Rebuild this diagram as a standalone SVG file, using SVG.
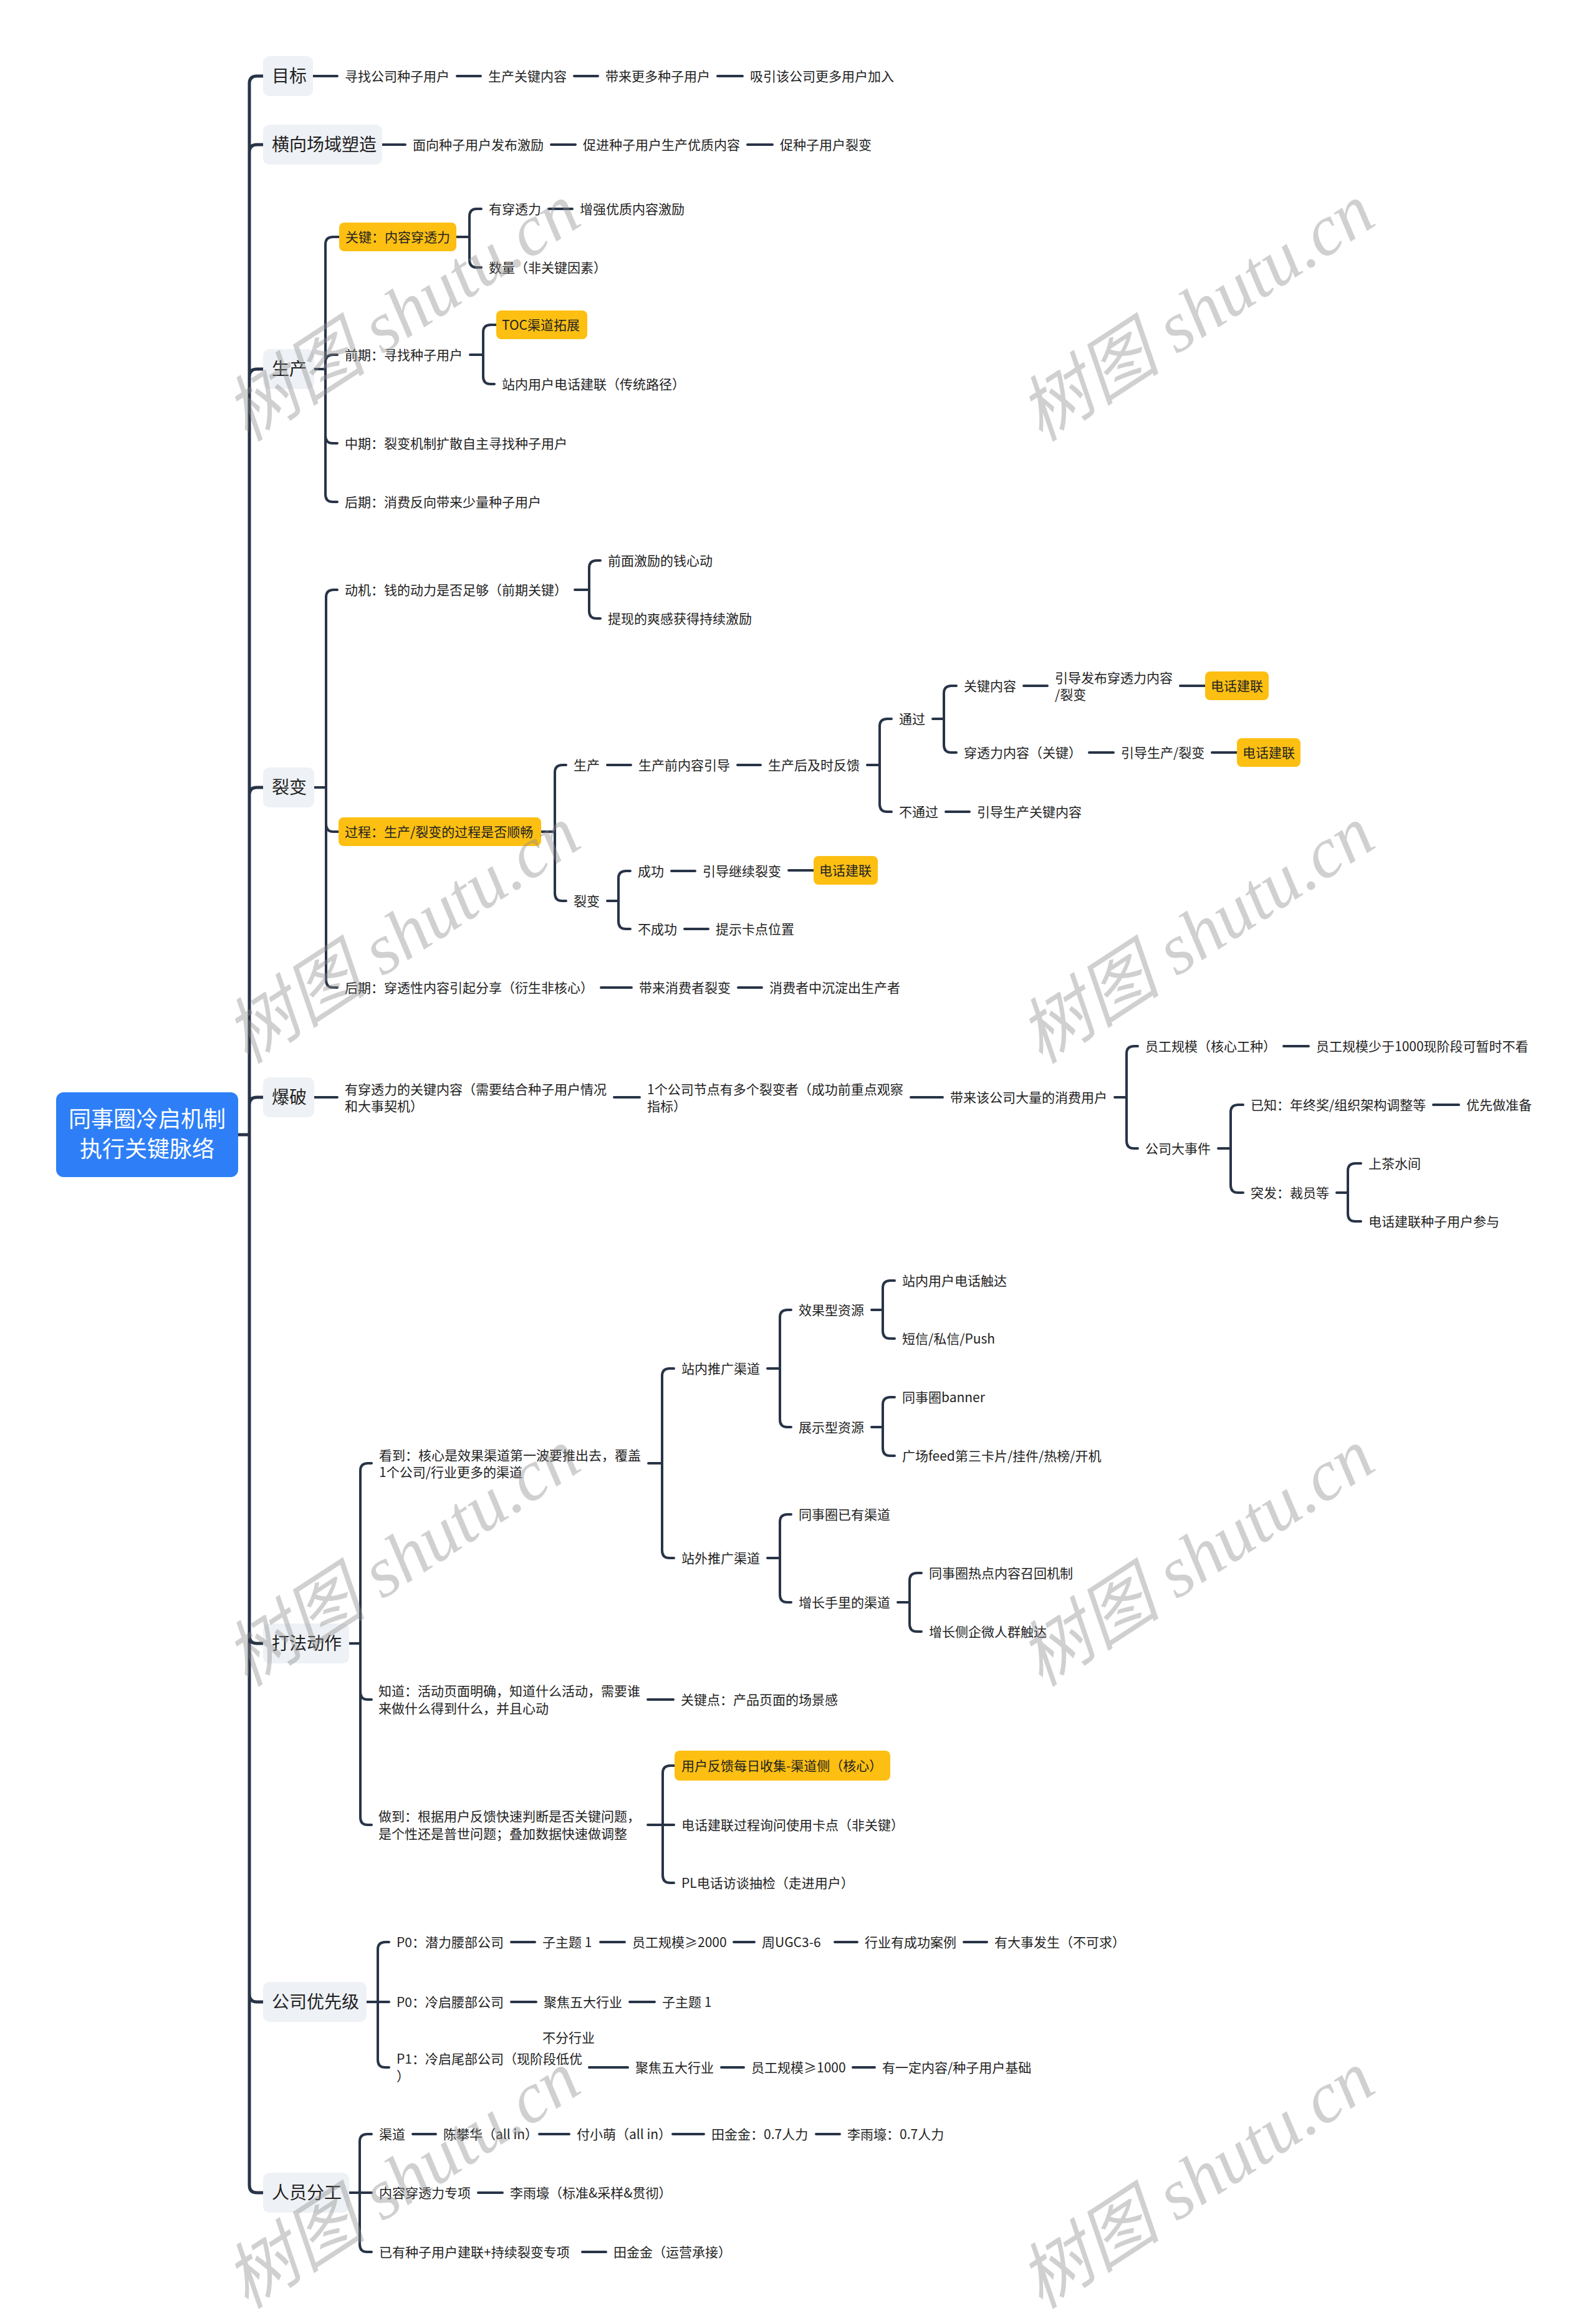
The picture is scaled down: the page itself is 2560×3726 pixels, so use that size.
<svg xmlns="http://www.w3.org/2000/svg" width="2560" height="3726" viewBox="0 0 2560 3726">
<style>
text{font-family:"Noto Sans CJK SC","Noto Sans",sans-serif;font-size:21px;fill:#222}
.t1{font-size:28px}
.rt{font-size:36px;fill:#fff}
.c path{fill:none;stroke:#283447;stroke-width:4;stroke-linecap:round}
.c .tr{stroke-width:5}
.b1{fill:#eef1f5}
.y{fill:#fcbf12}
.wm text{font-family:"Liberation Serif","Noto Sans CJK SC",serif;font-style:italic;font-size:115px;fill:#8c8c8c;opacity:0.4}
</style>
<rect width="2560" height="3726" fill="#fff"/>
<g class="c" id="connectors">
<path class="tr" d="M382 1820H400M400 1820V134Q400 122 412 122H422M400 1820V244Q400 232 412 232H422M400 1820V604Q400 592 412 592H422M400 1820V1275Q400 1263 412 1263H422M400 1820V1772Q400 1760 412 1760H422M400 1820V2624Q400 2636 412 2636H422M400 1820V3199Q400 3211 412 3211H422M400 1820V3505Q400 3517 412 3517H422"/>
<path d="M502 122H541M733 122H771M921 122H959M1151 122H1191"/>
<path d="M613 232H650M884 232H923M1199 232H1239"/>
<path d="M504 592H522M522 592V392Q522 380 534 380H544M522 592V581Q522 569 534 569H541M522 592V699Q522 711 534 711H541M522 592V793Q522 805 534 805H541"/>
<path d="M732 380H753M753 380V347Q753 335 765 335H772M753 380V417Q753 429 765 429H772M880 335H918"/>
<path d="M754 569H775M775 569V533Q775 521 787 521H796M775 569V604Q775 616 787 616H793"/>
<path d="M504 1263H523M523 1263V958Q523 946 535 946H541M523 1263V1322Q523 1334 535 1334H543M523 1263V1572Q523 1584 535 1584H541"/>
<path d="M922 946H945M945 946V911Q945 899 957 899H963M945 946V980Q945 992 957 992H963"/>
<path d="M868 1334H890M890 1334V1239Q890 1227 902 1227H908M890 1334V1433Q890 1445 902 1445H908"/>
<path d="M974 1227H1012M1183 1227H1220M1391 1227H1411M1411 1227V1165Q1411 1153 1423 1153H1430M1411 1227V1290Q1411 1302 1423 1302H1430"/>
<path d="M1496 1153H1514M1514 1153V1112Q1514 1100 1526 1100H1534M1514 1153V1195Q1514 1207 1526 1207H1534"/>
<path d="M1642 1100H1680M1893 1100H1933M1747 1207H1786M1944 1207H1984M1517 1302H1555"/>
<path d="M974 1445H992M992 1445V1409Q992 1397 1004 1397H1011M992 1445V1478Q992 1490 1004 1490H1011M1077 1397H1115M1265 1396H1305M1098 1490H1136"/>
<path d="M964 1584H1013M1184 1584H1222"/>
<path d="M504 1760H541M985 1760H1026M1461 1760H1512M1788 1760H1807M1807 1760V1690Q1807 1678 1819 1678H1825M1807 1760V1830Q1807 1842 1819 1842H1825M2059 1678H2099"/>
<path d="M1954 1842H1974M1974 1842V1784Q1974 1772 1986 1772H1994M1974 1842V1901Q1974 1913 1986 1913H1994M2299 1772H2340"/>
<path d="M2144 1913H2162M2162 1913V1878Q2162 1866 2174 1866H2183M2162 1913V1947Q2162 1959 2174 1959H2183"/>
<path d="M560 2636H578M578 2636V2359Q578 2347 590 2347H596M578 2636V2714Q578 2726 590 2726H596M578 2636V2915Q578 2927 590 2927H596"/>
<path d="M1040 2347H1062M1062 2347V2207Q1062 2195 1074 2195H1081M1062 2347V2487Q1062 2499 1074 2499H1081"/>
<path d="M1231 2195H1251M1251 2195V2113Q1251 2101 1263 2101H1269M1251 2195V2277Q1251 2289 1263 2289H1269"/>
<path d="M1398 2101H1416M1416 2101V2066Q1416 2054 1428 2054H1435M1416 2101V2135Q1416 2147 1428 2147H1435"/>
<path d="M1398 2289H1416M1416 2289V2253Q1416 2241 1428 2241H1435M1416 2289V2323Q1416 2335 1428 2335H1435"/>
<path d="M1231 2499H1251M1251 2499V2441Q1251 2429 1263 2429H1269M1251 2499V2558Q1251 2570 1263 2570H1269"/>
<path d="M1440 2570H1459M1459 2570V2535Q1459 2523 1471 2523H1478M1459 2570V2605Q1459 2617 1471 2617H1478"/>
<path d="M1039 2726H1080M1039 2927H1063M1063 2927V2844Q1063 2832 1075 2832H1082M1063 2927H1081M1063 2927V3008Q1063 3020 1075 3020H1081"/>
<path d="M588 3211H606M606 3211V3127Q606 3115 618 3115H624M606 3211H624M606 3211V3304Q606 3316 618 3316H624"/>
<path d="M820 3115H858M963 3115H1002M1177 3115H1210M1339 3115H1375M1546 3115H1583M820 3211H860M1010 3211H1050M945 3316H1007M1157 3316H1193M1368 3316H1403"/>
<path d="M560 3517H577M577 3517V3435Q577 3423 589 3423H596M577 3517H596M577 3517V3600Q577 3612 589 3612H596"/>
<path d="M662 3423H699M865 3423H913M1079 3423H1129M1309 3423H1347M767 3517H806M934 3612H972"/>
</g>
<g id="root"><rect x="90" y="1752" width="292" height="136" rx="12" fill="#2e7ff7"/><text class="rt" x="236" y="1808" text-anchor="middle">同事圈冷启机制</text><text class="rt" x="236" y="1856" text-anchor="middle">执行关键脉络</text></g>
<g id="n-mubiao"><rect class="b1" x="422" y="90" width="80" height="64" rx="10"/><text class="t1" x="436" y="132">目标</text></g>
<g id="n-mb1"><text x="553" y="130">寻找公司种子用户</text></g>
<g id="n-mb2"><text x="783" y="130">生产关键内容</text></g>
<g id="n-mb3"><text x="971" y="130">带来更多种子用户</text></g>
<g id="n-mb4"><text x="1203" y="130">吸引该公司更多用户加入</text></g>
<g id="n-hx"><rect class="b1" x="422" y="200" width="191" height="64" rx="10"/><text class="t1" x="436" y="242">横向场域塑造</text></g>
<g id="n-hx1"><text x="662" y="240">面向种子用户发布激励</text></g>
<g id="n-hx2"><text x="935" y="240">促进种子用户生产优质内容</text></g>
<g id="n-hx3"><text x="1251" y="240">促种子用户裂变</text></g>
<g id="n-sc"><rect class="b1" x="422" y="560" width="82" height="64" rx="10"/><text class="t1" x="436" y="602">生产</text></g>
<g id="n-sc1"><rect class="y" x="544" y="357" width="188" height="46" rx="8"/><text x="554" y="388">关键：内容穿透力</text></g>
<g id="n-sc11"><text x="784" y="343">有穿透力</text></g>
<g id="n-sc111"><text x="930" y="343">增强优质内容激励</text></g>
<g id="n-sc12"><text x="784" y="437">数量（非关键因素）</text></g>
<g id="n-sc2"><text x="553" y="577">前期：寻找种子用户</text></g>
<g id="n-sc21"><rect class="y" x="796" y="498" width="146" height="46" rx="8"/><text x="805" y="529">TOC渠道拓展</text></g>
<g id="n-sc22"><text x="805" y="624">站内用户电话建联（传统路径）</text></g>
<g id="n-sc3"><text x="553" y="719">中期：裂变机制扩散自主寻找种子用户</text></g>
<g id="n-sc4"><text x="553" y="813">后期：消费反向带来少量种子用户</text></g>
<g id="n-lb"><rect class="b1" x="422" y="1231" width="82" height="64" rx="10"/><text class="t1" x="436" y="1273">裂变</text></g>
<g id="n-lb1"><text x="553" y="954">动机：钱的动力是否足够（前期关键）</text></g>
<g id="n-lb11"><text x="975" y="907">前面激励的钱心动</text></g>
<g id="n-lb12"><text x="975" y="1000">提现的爽感获得持续激励</text></g>
<g id="n-lb2"><rect class="y" x="543" y="1311" width="325" height="46" rx="8"/><text x="553" y="1342">过程：生产/裂变的过程是否顺畅</text></g>
<g id="n-lb21"><text x="920" y="1235">生产</text></g>
<g id="n-lb211"><text x="1024" y="1235">生产前内容引导</text></g>
<g id="n-lb212"><text x="1232" y="1235">生产后及时反馈</text></g>
<g id="n-lb2121"><text x="1442" y="1161">通过</text></g>
<g id="n-tg1"><text x="1546" y="1108">关键内容</text></g>
<g id="n-tg11"><text x="1692" y="1095">引导发布穿透力内容</text><text x="1692" y="1122">/裂变</text></g>
<g id="n-tg111"><rect class="y" x="1933" y="1077" width="102" height="46" rx="8"/><text x="1942" y="1108">电话建联</text></g>
<g id="n-tg2"><text x="1546" y="1215">穿透力内容（关键）</text></g>
<g id="n-tg21"><text x="1798" y="1215">引导生产/裂变</text></g>
<g id="n-tg211"><rect class="y" x="1984" y="1184" width="102" height="46" rx="8"/><text x="1993" y="1215">电话建联</text></g>
<g id="n-btg"><text x="1442" y="1310">不通过</text></g>
<g id="n-btg1"><text x="1567" y="1310">引导生产关键内容</text></g>
<g id="n-lb22"><text x="920" y="1453">裂变</text></g>
<g id="n-cg"><text x="1023" y="1405">成功</text></g>
<g id="n-cg1"><text x="1127" y="1405">引导继续裂变</text></g>
<g id="n-cg11"><rect class="y" x="1305" y="1373" width="103" height="46" rx="8"/><text x="1314" y="1404">电话建联</text></g>
<g id="n-bcg"><text x="1023" y="1498">不成功</text></g>
<g id="n-bcg1"><text x="1148" y="1498">提示卡点位置</text></g>
<g id="n-lb3"><text x="553" y="1592">后期：穿透性内容引起分享（衍生非核心）</text></g>
<g id="n-lb31"><text x="1025" y="1592">带来消费者裂变</text></g>
<g id="n-lb32"><text x="1234" y="1592">消费者中沉淀出生产者</text></g>
<g id="n-bp"><rect class="b1" x="422" y="1728" width="82" height="64" rx="10"/><text class="t1" x="436" y="1770">爆破</text></g>
<g id="n-bp1"><text x="553" y="1755">有穿透力的关键内容（需要结合种子用户情况</text><text x="553" y="1782">和大事契机）</text></g>
<g id="n-bp2"><text x="1038" y="1755">1个公司节点有多个裂变者（成功前重点观察</text><text x="1038" y="1782">指标）</text></g>
<g id="n-bp3"><text x="1524" y="1768">带来该公司大量的消费用户</text></g>
<g id="n-bp31"><text x="1837" y="1686">员工规模（核心工种）</text></g>
<g id="n-bp311"><text x="2111" y="1686">员工规模少于1000现阶段可暂时不看</text></g>
<g id="n-bp32"><text x="1837" y="1850">公司大事件</text></g>
<g id="n-bp321"><text x="2006" y="1780">已知：年终奖/组织架构调整等</text></g>
<g id="n-bp3211"><text x="2352" y="1780">优先做准备</text></g>
<g id="n-bp322"><text x="2006" y="1921">突发：裁员等</text></g>
<g id="n-bp3221"><text x="2195" y="1874">上茶水间</text></g>
<g id="n-bp3222"><text x="2195" y="1967">电话建联种子用户参与</text></g>
<g id="n-df"><rect class="b1" x="422" y="2604" width="138" height="64" rx="10"/><text class="t1" x="436" y="2646">打法动作</text></g>
<g id="n-df1"><text x="608" y="2342">看到：核心是效果渠道第一波要推出去，覆盖</text><text x="608" y="2369">1个公司/行业更多的渠道</text></g>
<g id="n-df11"><text x="1093" y="2203">站内推广渠道</text></g>
<g id="n-df111"><text x="1281" y="2109">效果型资源</text></g>
<g id="n-df1111"><text x="1447" y="2062">站内用户电话触达</text></g>
<g id="n-df1112"><text x="1447" y="2155">短信/私信/Push</text></g>
<g id="n-df112"><text x="1281" y="2297">展示型资源</text></g>
<g id="n-df1121"><text x="1447" y="2249">同事圈banner</text></g>
<g id="n-df1122"><text x="1447" y="2343">广场feed第三卡片/挂件/热榜/开机</text></g>
<g id="n-df12"><text x="1093" y="2507">站外推广渠道</text></g>
<g id="n-df121"><text x="1281" y="2437">同事圈已有渠道</text></g>
<g id="n-df122"><text x="1281" y="2578">增长手里的渠道</text></g>
<g id="n-df1221"><text x="1490" y="2531">同事圈热点内容召回机制</text></g>
<g id="n-df1222"><text x="1490" y="2625">增长侧企微人群触达</text></g>
<g id="n-df2"><text x="607" y="2720">知道：活动页面明确，知道什么活动，需要谁</text><text x="607" y="2748">来做什么得到什么，并且心动</text></g>
<g id="n-df21"><text x="1092" y="2734">关键点：产品页面的场景感</text></g>
<g id="n-df3"><text x="607" y="2921">做到：根据用户反馈快速判断是否关键问题，</text><text x="607" y="2949">是个性还是普世问题；叠加数据快速做调整</text></g>
<g id="n-df31"><rect class="y" x="1082" y="2808" width="346" height="48" rx="8"/><text x="1093" y="2840">用户反馈每日收集-渠道侧（核心）</text></g>
<g id="n-df32"><text x="1093" y="2935">电话建联过程询问使用卡点（非关键）</text></g>
<g id="n-df33"><text x="1093" y="3028">PL电话访谈抽检（走进用户）</text></g>
<g id="n-yx"><rect class="b1" x="422" y="3179" width="166" height="64" rx="10"/><text class="t1" x="436" y="3221">公司优先级</text></g>
<g id="n-yx1"><text x="636" y="3123">P0：潜力腰部公司</text></g>
<g id="n-yx11"><text x="870" y="3123">子主题 1</text></g>
<g id="n-yx12"><text x="1014" y="3123">员工规模≥2000</text></g>
<g id="n-yx13"><text x="1222" y="3123">周UGC3-6</text></g>
<g id="n-yx14"><text x="1387" y="3123">行业有成功案例</text></g>
<g id="n-yx15"><text x="1595" y="3123">有大事发生（不可求）</text></g>
<g id="n-yx2"><text x="636" y="3219">P0：冷启腰部公司</text></g>
<g id="n-yx21"><text x="872" y="3219">聚焦五大行业</text></g>
<g id="n-yx22"><text x="1062" y="3219">子主题 1</text></g>
<g id="n-yxlabel"><text x="870" y="3276">不分行业</text></g>
<g id="n-yx3"><text x="636" y="3310">P1：冷启尾部公司（现阶段低优</text><text x="636" y="3338">）</text></g>
<g id="n-yx31"><text x="1019" y="3324">聚焦五大行业</text></g>
<g id="n-yx32"><text x="1205" y="3324">员工规模≥1000</text></g>
<g id="n-yx33"><text x="1415" y="3324">有一定内容/种子用户基础</text></g>
<g id="n-ry"><rect class="b1" x="422" y="3485" width="138" height="64" rx="10"/><text class="t1" x="436" y="3527">人员分工</text></g>
<g id="n-ry1"><text x="608" y="3431">渠道</text></g>
<g id="n-ry11"><text x="711" y="3431">陈攀华（all in）</text></g>
<g id="n-ry12"><text x="925" y="3431">付小萌（all in）</text></g>
<g id="n-ry13"><text x="1141" y="3431">田金金：0.7人力</text></g>
<g id="n-ry14"><text x="1359" y="3431">李雨壕：0.7人力</text></g>
<g id="n-ry2"><text x="608" y="3525">内容穿透力专项</text></g>
<g id="n-ry21"><text x="818" y="3525">李雨壕（标准&amp;采样&amp;贯彻）</text></g>
<g id="n-ry3"><text x="608" y="3620">已有种子用户建联+持续裂变专项</text></g>
<g id="n-ry31"><text x="984" y="3620">田金金（运营承接）</text></g>
<g class="wm" id="watermarks">
<text x="647" y="540" text-anchor="middle" transform="rotate(-33 647 504)">树图 shutu.cn</text>
<text x="1921" y="540" text-anchor="middle" transform="rotate(-33 1921 504)">树图 shutu.cn</text>
<text x="647" y="1538" text-anchor="middle" transform="rotate(-33 647 1502)">树图 shutu.cn</text>
<text x="1921" y="1538" text-anchor="middle" transform="rotate(-33 1921 1502)">树图 shutu.cn</text>
<text x="647" y="2537" text-anchor="middle" transform="rotate(-33 647 2501)">树图 shutu.cn</text>
<text x="1921" y="2537" text-anchor="middle" transform="rotate(-33 1921 2501)">树图 shutu.cn</text>
<text x="647" y="3535" text-anchor="middle" transform="rotate(-33 647 3499)">树图 shutu.cn</text>
<text x="1921" y="3535" text-anchor="middle" transform="rotate(-33 1921 3499)">树图 shutu.cn</text>
</g>
</svg>
